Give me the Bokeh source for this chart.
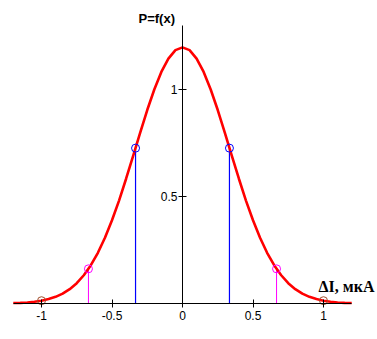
from bokeh.plotting import figure
from bokeh.models import Range1d, FixedTicker, Label
from bokeh.embed import file_html
from bokeh.resources import INLINE

# curve
curve_x = [-1.20, -1.15, -1.10, -1.05, -1.00, -0.95, -0.90, -0.85, -0.80, -0.75,
           -0.70, -0.65, -0.60, -0.55, -0.50, -0.45, -0.40, -0.35, -0.30, -0.25,
           -0.20, -0.15, -0.10, -0.05, 0.00, 0.05, 0.10, 0.15, 0.20, 0.25,
           0.30, 0.35, 0.40, 0.45, 0.50, 0.55, 0.60, 0.65, 0.70, 0.75,
           0.80, 0.85, 0.90, 0.95, 1.00, 1.05, 1.10, 1.15, 1.20]
curve_y = [0.002, 0.003, 0.005, 0.008, 0.013, 0.021, 0.031, 0.046, 0.067, 0.095,
           0.132, 0.179, 0.237, 0.307, 0.389, 0.481, 0.583, 0.690, 0.798, 0.904,
           1.000, 1.082, 1.144, 1.184, 1.197, 1.184, 1.144, 1.082, 1.000, 0.904,
           0.798, 0.690, 0.583, 0.481, 0.389, 0.307, 0.237, 0.179, 0.132, 0.095,
           0.067, 0.046, 0.031, 0.021, 0.013, 0.008, 0.005, 0.003, 0.002]

sigma1_x = [-0.333, 0.333]
sigma1_y = [0.726, 0.726]
sigma2_x = [-0.667, 0.667]
sigma2_y = [0.162, 0.162]
sigma3_x = [-1.0, 1.0]
sigma3_y = [0.013, 0.013]

x_ticks = [-1, -0.5, 0, 0.5, 1]
x_tick_labels = ["-1", "-0.5", "0", "0.5", "1"]
y_ticks = [0.5, 1]
y_tick_labels = ["0.5", "1"]

p = figure(width=377, height=339, output_backend="svg", toolbar_location=None,
           x_range=Range1d(-182 / 141, 195 / 141), y_range=Range1d(-36 / 214, 303 / 214),
           min_border=0, outline_line_color=None)
p.grid.visible = False
p.background_fill_color = "white"
p.border_fill_color = "white"

for ax, ticks, labels, bounds in ((p.xaxis[0], x_ticks, x_tick_labels, (-1.2, 1.2)),
                                  (p.yaxis[0], y_ticks, y_tick_labels, (0, 1.3))):
    ax.fixed_location = 0
    ax.bounds = bounds
    ax.ticker = FixedTicker(ticks=ticks)
    ax.major_label_overrides = {t: l for t, l in zip(ticks, labels)}
    ax.major_tick_in = 4
    ax.major_tick_out = 4
    ax.minor_tick_line_color = None
    ax.axis_line_color = "black"
    ax.major_tick_line_color = "black"
    ax.major_label_text_font = "Liberation Sans"
    ax.major_label_text_font_size = "12px"
    ax.major_label_text_color = "black"
p.xaxis.major_label_standoff = 3
p.yaxis.major_label_standoff = 1

p.segment(x0=sigma2_x, y0=[0, 0], x1=sigma2_x, y1=sigma2_y, line_color="#ff00ff", line_width=1)
p.segment(x0=sigma1_x, y0=[0, 0], x1=sigma1_x, y1=sigma1_y, line_color="#0000ff", line_width=1.2)
p.line(curve_x, curve_y, line_color="#ff0000", line_width=2.6)
p.scatter(sigma1_x, sigma1_y, marker="circle", size=8, fill_color=None, line_color="#0000ff", line_width=1)
p.scatter(sigma2_x, sigma2_y, marker="circle", size=8, fill_color=None, line_color="#ff00ff", line_width=1)
p.scatter(sigma3_x, sigma3_y, marker="circle", size=8, fill_color=None, line_color="#a0522d", line_width=1)

p.add_layout(Label(x=138, y=321, x_units="screen", y_units="screen", text="P=f(x)",
                   text_font="Liberation Sans", text_font_style="bold", text_font_size="13px",
                   text_baseline="middle", text_color="black"))
p.add_layout(Label(x=318, y=53, x_units="screen", y_units="screen", text="ΔI, мкА",
                   text_font="Liberation Serif", text_font_style="bold", text_font_size="16px",
                   text_baseline="middle", text_color="black"))

open("out.html", "w").write(file_html(p, INLINE))
